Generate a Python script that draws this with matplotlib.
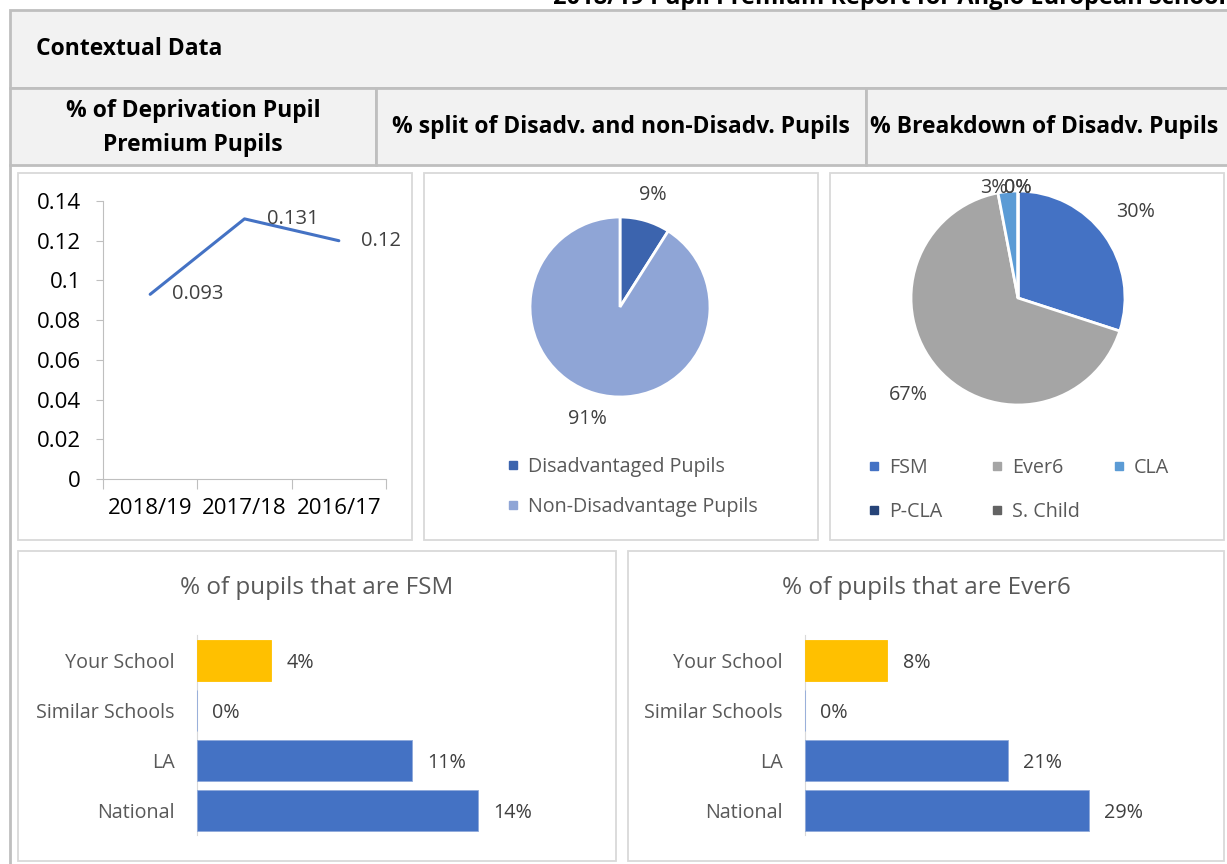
import numpy as np
import matplotlib
matplotlib.use('Agg')
import matplotlib.pyplot as plt
from matplotlib.patches import Rectangle
from matplotlib.lines import Line2D
from matplotlib.ticker import FuncFormatter

plt.rcParams['font.family'] = ['Open Sans', 'DejaVu Sans']

# ---- data ----
years = ['2018/19', '2017/18', '2016/17']
deprivation = [0.093, 0.131, 0.12]

split_labels = ['Disadvantaged Pupils', 'Non-Disadvantage Pupils']
split_values = [0.09, 0.91]

breakdown_labels = ['FSM', 'Ever6', 'CLA', 'P-CLA', 'S. Child']
breakdown_values = [0.30, 0.67, 0.03, 0.0, 0.0]

bar_cats = ['Your School', 'Similar Schools', 'LA', 'National']
fsm_values = [0.037, 0.0, 0.107, 0.14]
ever6_values = [0.084, 0.0, 0.207, 0.29]

# ---- layout helpers (pixel boxes) ----
W, H = 1227, 864
fig = plt.figure(figsize=(W / 100, H / 100), dpi=100)


def px_axes(x0, y0, x1, y1, **kw):
    return fig.add_axes([x0 / W, 1 - y1 / H, (x1 - x0) / W, (y1 - y0) / H], **kw)


bg = px_axes(0, 0, W, H)
bg.set_xlim(0, W)
bg.set_ylim(H, 0)
bg.axis('off')

grid_c = '#BFBFBF'
head_c = '#F2F2F2'
for x0, y0, x1, y1 in [(10, 10, 1240, 88), (10, 88, 376, 165),
                       (376, 88, 866, 165), (866, 88, 1240, 165)]:
    bg.add_patch(Rectangle((x0, y0), x1 - x0, y1 - y0, fc=head_c, ec=grid_c, lw=2))
bg.plot([10, 10], [165, 870], color=grid_c, lw=2)

for x0, y0, x1, y1 in [(18, 173, 412, 540), (424, 173, 818, 540), (830, 173, 1224, 540),
                       (18, 551, 616, 861), (628, 551, 1224, 861)]:
    bg.add_patch(Rectangle((x0, y0), x1 - x0, y1 - y0, fc='white', ec='#D9D9D9', lw=1.3))

hfont = dict(fontweight='bold', fontsize=16.5, color='black')
bg.text(553, 4, '2018/19 Pupil Premium Report for Anglo European School', ha='left',
        va='baseline', fontweight='bold', fontsize=17, color='black')
bg.text(36, 49, 'Contextual Data', ha='left', va='center', **hfont)
bg.text(193, 128, '% of Deprivation Pupil\nPremium Pupils', ha='center', va='center',
        linespacing=1.6, **hfont)
bg.text(621, 127, '% split of Disadv. and non-Disadv. Pupils', ha='center', va='center', **hfont)
bg.text(870, 127, '% Breakdown of Disadv. Pupils', ha='left', va='center', **hfont)

txt_c = '#595959'
lbl_c = '#404040'
fs = 14.2

# ---- line chart ----
ax = px_axes(103, 201, 386, 479)
x = np.arange(len(years))
ax.plot(x, deprivation, color='#4472C4', lw=2.2, solid_capstyle='round')
for xi, v in zip(x, deprivation):
    ax.annotate(f'{v:g}', (xi, v), xytext=(16, 0), textcoords='offset points',
                ha='left', va='center', fontsize=14.5, color=lbl_c)
ax.set_xlim(-0.5, len(years) - 0.5)
ax.set_ylim(0, 0.14)
ax.set_yticks(np.arange(0, 0.141, 0.02))
ax.yaxis.set_major_formatter(FuncFormatter(lambda v, p: f'{round(v, 2):g}'))
ax.set_xticks(np.arange(-0.5, len(years)), labels=[])
ax.set_xticks(x, labels=years, minor=True)
ax.tick_params(axis='x', which='major', length=7, color=grid_c, direction='out')
ax.tick_params(axis='x', which='minor', length=0, pad=14, labelsize=16, labelcolor='black')
ax.tick_params(axis='y', length=5, color=grid_c, pad=11, labelsize=16, labelcolor='black')
for s in ['top', 'right']:
    ax.spines[s].set_visible(False)
for s in ['left', 'bottom']:
    ax.spines[s].set_color(grid_c)

# ---- pie: split ----
r1 = 90
pax = px_axes(620 - r1, 307 - r1, 620 + r1, 307 + r1)
split_colors = ['#3C64AE', '#8FA5D6']
pax.pie(split_values, colors=split_colors, startangle=90, counterclock=False,
        autopct='%1.0f%%', pctdistance=1.3,
        wedgeprops=dict(edgecolor='white', linewidth=2),
        textprops=dict(color=lbl_c, fontsize=fs))
pax.set_xlim(-1, 1)
pax.set_ylim(-1, 1)
handles = [Line2D([], [], ls='', marker='s', ms=6, color=c) for c in split_colors]
fig.legend(handles, split_labels, loc='center left', bbox_to_anchor=(507 / W, 1 - 487 / H),
           frameon=False, fontsize=fs, labelcolor=txt_c, handlelength=0.6,
           handletextpad=0.45, labelspacing=1.05, borderpad=0, borderaxespad=0)

# ---- pie: breakdown ----
r2 = 107
bax = px_axes(1018 - r2, 298 - r2, 1018 + r2, 298 + r2)
bd_colors = ['#4472C4', '#A5A5A5', '#5B9BD5', '#264478', '#636363']
wedges, _, autotexts = bax.pie(breakdown_values, colors=bd_colors, startangle=90,
                               counterclock=False, autopct='%1.0f%%',
                               wedgeprops=dict(edgecolor='white', linewidth=2),
                               textprops=dict(color=lbl_c, fontsize=fs))
label_dist = [1.36, 1.37, 1.03, 1.03, 1.03]
label_ha = ['center', 'center', 'right', 'center', 'center']
for w, t, d, ha in zip(wedges, autotexts, label_dist, label_ha):
    th = np.deg2rad((w.theta1 + w.theta2) / 2)
    t.set_position((d * np.cos(th), d * np.sin(th)))
    t.set_ha(ha)
bax.set_xlim(-1, 1)
bax.set_ylim(-1, 1)
cols = [[0, 3], [1, 4], [2]]
col_x = [868, 991, 1113]
for idx, cx in zip(cols, col_x):
    hs = [Line2D([], [], ls='', marker='s', ms=6, color=bd_colors[i]) for i in idx]
    fig.legend(hs, [breakdown_labels[i] for i in idx], loc='upper left',
               bbox_to_anchor=(cx / W, 1 - 458 / H), frameon=False, fontsize=fs,
               labelcolor=txt_c, handlelength=0.6, handletextpad=0.45, labelspacing=1.2,
               borderpad=0, borderaxespad=0)


# ---- bar charts ----
def bar_chart(box, values, title, title_x, xmax):
    a = px_axes(*box)
    yy = np.arange(len(bar_cats))
    colors = ['#FFC000'] + ['#4472C4'] * (len(bar_cats) - 1)
    edges = ['#FFC000'] + ['#8EA9DB'] * (len(bar_cats) - 1)
    bars = a.barh(yy, values, height=0.82, color=colors, edgecolor=edges, linewidth=0.6)
    anns = a.bar_label(bars, labels=[f'{v:.0%}' for v in values], padding=11,
                       fontsize=fs, color=lbl_c)
    for t in anns:
        t.xyann = (11, -2)
    a.set_ylim(len(bar_cats) - 0.5, -0.5)
    a.set_xlim(0, xmax)
    a.set_yticks(yy, labels=bar_cats)
    a.tick_params(axis='y', length=0, pad=16, labelsize=fs, labelcolor=txt_c)
    a.set_xticks([])
    for s in ['top', 'right', 'bottom']:
        a.spines[s].set_visible(False)
    a.spines['left'].set_color('#D9D9D9')
    a.spines['left'].set_zorder(0.5)
    bg.text(title_x, 588, title, ha='center', va='center', fontsize=17.5, color=txt_c)


bar_chart((197, 635, 518, 835), fsm_values, '% of pupils that are FSM', 317, 0.16)
bar_chart((805, 635, 1148, 835), ever6_values, '% of pupils that are Ever6', 926, 0.35)

fig.savefig('out.png', dpi=100)
